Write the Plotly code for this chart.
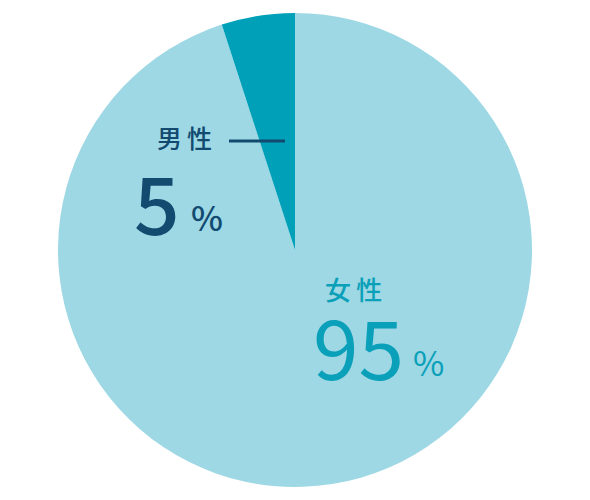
import plotly.graph_objects as go

labels = ["女性", "男性"]
values = [95, 5]
pct_text = ["95", "5"]
colors = ["#9dd8e4", "#00a0b9"]

W, H = 590, 500
OFF = 8  # page body margin


def px(x, y, dy=0):
    # pixel position in the picture -> paper coords
    return (x - OFF) / W, 1 - (y - OFF + dy) / H


fig = go.Figure()
fig.add_trace(go.Pie(
    labels=labels, values=values, sort=False,
    direction="clockwise", rotation=0,
    marker=dict(colors=colors, line=dict(width=0)),
    textinfo="none", hoverinfo="label+percent",
    domain=dict(x=[(58 - OFF) / W, (532 - OFF) / W],
                y=[1 - (487 - OFF) / H, 1 - (13 - OFF) / H]),
    showlegend=False,
))

font = "Noto Sans CJK JP"
navy = "#124a70"
teal = "#0aa0b9"
sp = "\u2009"

anns = []
# male
x, y = px(184, 143, -6)
anns.append(dict(x=x, y=y, text=sp.join(labels[1]), font=dict(family=font, size=25, color=navy, weight=500)))
x, y = px(157, 207, -7)
anns.append(dict(x=x, y=y, text=pct_text[1], font=dict(family=font, size=80, color=navy, weight=500)))
x, y = px(207, 219, -2)
anns.append(dict(x=x, y=y, text="%", font=dict(family=font, size=34, color=navy, weight=500)))
# female
x, y = px(353, 294, -6)
anns.append(dict(x=x, y=y, text=sp.join(labels[0]), font=dict(family=font, size=26, color=teal, weight=500)))
x, y = px(358, 351, -7)
anns.append(dict(x=x, y=y, text=pct_text[0], font=dict(family=font, size=82, color=teal, weight=400)))
x, y = px(428, 363, -2)
anns.append(dict(x=x, y=y, text="%", font=dict(family=font, size=34, color=teal, weight=400)))

for a in anns:
    a.update(xref="paper", yref="paper", xanchor="center", yanchor="middle", showarrow=False)

x0, y0 = px(229, 141)
x1, _ = px(285, 141)
fig.update_layout(
    width=W, height=H,
    margin=dict(l=0, r=0, t=0, b=0),
    paper_bgcolor="white", plot_bgcolor="white",
    annotations=anns,
    shapes=[dict(type="line", xref="paper", yref="paper", x0=x0, x1=x1, y0=y0, y1=y0,
                 line=dict(color=navy, width=3))],
)

fig.write_html("out.html")
